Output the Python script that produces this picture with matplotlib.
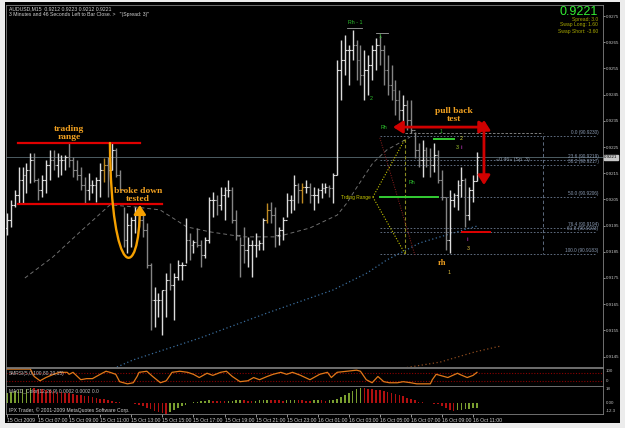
import numpy as np
import matplotlib.pyplot as plt
from matplotlib.patches import FancyArrowPatch
from matplotlib.path import Path

plt.rcParams['font.family'] = ['Liberation Sans', 'DejaVu Sans']

W, H = 625, 428

# AUDUSD M15 bars, 15 Oct 2009 05:00 .. 16 Oct 11:15
highs = [0.91998, 0.92048, 0.92086, 0.92174, 0.92174, 0.92189, 0.92227, 0.92227, 0.92132, 0.92143,
         0.92200, 0.92239, 0.92239, 0.92227, 0.92219, 0.92219, 0.92265, 0.92212, 0.92200, 0.92174,
         0.92136, 0.92151, 0.92124, 0.92136, 0.92189, 0.92208, 0.92212, 0.92265, 0.92246, 0.92162,
         0.92021, 0.91998, 0.91983, 0.92021, 0.91998, 0.91998, 0.91960, 0.91807, 0.91716, 0.91693,
         0.91704, 0.91769, 0.91807, 0.91769, 0.91819, 0.91811, 0.91979, 0.91922, 0.91895, 0.91941,
         0.91895, 0.91907, 0.92059, 0.92078, 0.92067, 0.92097, 0.92097, 0.92124, 0.92097, 0.92010,
         0.91907, 0.91945, 0.91907, 0.91895, 0.91922, 0.91895, 0.91979, 0.92036, 0.92040, 0.92021,
         0.91945, 0.91983, 0.92074, 0.92067, 0.92143, 0.92113, 0.92113, 0.92124, 0.92113, 0.92097,
         0.92094, 0.92113, 0.92113, 0.92105, 0.92151, 0.92582, 0.92658, 0.92678, 0.92639, 0.92697,
         0.92658, 0.92639, 0.92620, 0.92601, 0.92639, 0.92666, 0.92678, 0.92639, 0.92601, 0.92563,
         0.92506, 0.92468, 0.92448, 0.92429, 0.92429, 0.92307, 0.92265, 0.92277, 0.92250, 0.92246,
         0.92265, 0.92239, 0.92162, 0.92059, 0.92086, 0.92074, 0.92124, 0.92174, 0.92132, 0.92097,
         0.92143, 0.92230]
lows = [0.91914, 0.91945, 0.92021, 0.92036, 0.92036, 0.92074, 0.92113, 0.92116, 0.92048, 0.92059,
        0.92074, 0.92124, 0.92162, 0.92136, 0.92143, 0.92162, 0.92174, 0.92136, 0.92124, 0.92086,
        0.92036, 0.92048, 0.92074, 0.92040, 0.92059, 0.92116, 0.92059, 0.92162, 0.92136, 0.92086,
        0.91868, 0.91845, 0.91868, 0.91922, 0.91945, 0.91907, 0.91788, 0.91552, 0.91563, 0.91601,
        0.91532, 0.91601, 0.91704, 0.91590, 0.91742, 0.91742, 0.91807, 0.91819, 0.91845, 0.91868,
        0.91792, 0.91826, 0.91884, 0.91983, 0.91990, 0.92010, 0.91971, 0.92059, 0.91960, 0.91895,
        0.91754, 0.91807, 0.91792, 0.91754, 0.91830, 0.91857, 0.91857, 0.91960, 0.91960, 0.91868,
        0.91876, 0.91895, 0.91983, 0.91998, 0.92010, 0.92036, 0.92036, 0.92074, 0.92036, 0.92010,
        0.92036, 0.92055, 0.92074, 0.92059, 0.92036, 0.92143, 0.92429, 0.92525, 0.92487, 0.92582,
        0.92506, 0.92487, 0.92429, 0.92448, 0.92506, 0.92544, 0.92563, 0.92487, 0.92448, 0.92429,
        0.92372, 0.92353, 0.92334, 0.92315, 0.92303, 0.92208, 0.92174, 0.92136, 0.92174, 0.92136,
        0.92155, 0.92113, 0.92048, 0.91857, 0.91845, 0.92021, 0.92010, 0.92059, 0.91945, 0.91971,
        0.92040, 0.92120]
closes = [0.91971, 0.92029, 0.92067, 0.92124, 0.92143, 0.92162, 0.92200, 0.92124, 0.92086, 0.92124,
          0.92181, 0.92200, 0.92181, 0.92200, 0.92200, 0.92212, 0.92200, 0.92162, 0.92143, 0.92105,
          0.92086, 0.92105, 0.92105, 0.92124, 0.92162, 0.92181, 0.92162, 0.92239, 0.92143, 0.92086,
          0.91895, 0.91952, 0.91971, 0.91990, 0.91971, 0.91933, 0.91800, 0.91666, 0.91666, 0.91666,
          0.91704, 0.91742, 0.91723, 0.91754, 0.91800, 0.91800, 0.91895, 0.91876, 0.91887, 0.91876,
          0.91838, 0.91895, 0.92048, 0.92048, 0.92029, 0.92067, 0.92086, 0.92086, 0.91971, 0.91914,
          0.91876, 0.91857, 0.91876, 0.91876, 0.91876, 0.91884, 0.91971, 0.92010, 0.91990, 0.91914,
          0.91933, 0.91971, 0.92048, 0.92048, 0.92105, 0.92086, 0.92097, 0.92097, 0.92067, 0.92067,
          0.92086, 0.92094, 0.92097, 0.92094, 0.92143, 0.92544, 0.92582, 0.92620, 0.92620, 0.92639,
          0.92582, 0.92525, 0.92544, 0.92563, 0.92620, 0.92639, 0.92620, 0.92544, 0.92487, 0.92468,
          0.92429, 0.92391, 0.92410, 0.92353, 0.92315, 0.92239, 0.92200, 0.92239, 0.92200, 0.92181,
          0.92219, 0.92124, 0.92059, 0.91895, 0.92048, 0.92067, 0.92105, 0.92124, 0.91990, 0.92086,
          0.92120, 0.92210]
first_open = 0.91940
doji_bars = [25, 67, 76]

# moving averages (bar index, price)
ma_x = [4.6, 11.8, 18.8, 26.5, 33, 39.4, 46.3, 52.3, 60.8, 69.5, 78, 85, 87.5, 90.1, 94.2, 97.8, 103.8]
ma_vals = [0.91750, 0.91830, 0.91926, 0.92029, 0.92021, 0.92010, 0.91945, 0.91926, 0.91907,
           0.91907, 0.91941, 0.91990, 0.92036, 0.92097, 0.92189, 0.92239, 0.92288]
slow_x = [28.3, 32.4, 49.7, 66.9, 83.9, 92.7, 97.8, 106.3, 111.5, 119.2, 121]
slow_vals = [0.91410, 0.91437, 0.91521, 0.91616, 0.91704, 0.91769, 0.91819, 0.91884, 0.91907,
             0.91941, 0.91948]
brown_x = [102, 111.5, 120.5, 127]
brown_vals = [0.91406, 0.91429, 0.91468, 0.91490]

# fibonacci retracement
fib_levels = [0.92292, 0.92200, 0.92181, 0.92059, 0.91941, 0.91926, 0.91842]
fib_labels = ["0.0 (90.9230)", "23.6 (90.9219)", "38.2 (90.9217)", "50.0 (90.9206)",
              "76.4 (90.9194)", "61.8 (90.9193)", "100.0 (90.9183)"]

range_top, range_bottom = 0.92265, 0.92032
last_price = 0.9221

price_ticks = [0.9275, 0.9265, 0.9255, 0.9245, 0.9235, 0.9225, 0.9215, 0.9205,
               0.9195, 0.9185, 0.9175, 0.9165, 0.9155, 0.9145]

# oscillator (0..100)
osc_x = [0, 6, 7, 8.5, 10, 12, 13.5, 15.5, 16, 17, 19, 20.5, 22, 24, 25.5, 26.5, 28, 29, 31, 32.5,
         33.5, 34, 36, 37.5, 39.5, 41, 42.5, 44.5, 46.5, 48, 49.5, 51.5, 53, 55, 56.5, 58, 60, 62,
         63.5, 65, 67, 68.5, 70.5, 72, 73.5, 75.5, 78, 80.5, 82.5, 83.5, 85, 87.5, 90, 91, 92.5, 94,
         95.5, 97, 98.5, 100.5, 102, 104, 105.5, 109, 109.5, 110.5, 111.5, 113.5, 116, 116.5,
         118.5, 120, 121]
osc_vals = [94, 94, 53, 29, 47, 65, 76, 76, 65, 76, 35, 41, 41, 65, 82, 76, 65, 24, 12, 18,
            53, 76, 82, 53, 18, 29, 76, 82, 76, 65, 47, 71, 59, 76, 82, 53, 24, 29, 47, 35,
            53, 65, 76, 65, 76, 60, 35, 65, 76, 47, 76, 82, 88, 82, 35, 18, 53, 24, 18, 18,
            24, 18, 12, 12, 35, 65, 59, 47, 71, 65, 47, 59, 76]

# MACD histogram, points
macd_hist = [10, 11, 12, 13, 14, 14.5, 15,
             14.6, 14.2, 13.8, 13.2, 12.6, 12, 11.4, 10.8, 10.2, 9.6, 9, 8.4, 7.8, 7.2, 6.6, 6,
             5.2, 4.4, 3.6, 2.8, 2, 1.4,
             0.8, 0.4, 0.2, -0.3,
             -1, -2, -3, -4.5, -6, -7.5, -8.5, -9.5, -10.5,
             -9, -7, -5, -3, -1.5,
             0.5, 1, 1.5, 2, 2.5, 2.8, 2.5, 2.2, 2, 1.8, 2, 2.3, 2.6, 3, 2.7, 2.4, 2.2, 2.5, 2.8,
             3.2, 3.5, 3.2, 2.9, 2.6, 2.4, 2.6, 2.9, 3.2, 3, 2.7, 2.5, 2.3, 2.6, 3, 2.8, 2.5, 2.8, 3.4,
             4.5, 6.5, 8.5, 10.5, 12.5, 14, 15,
             14.8, 14.4, 14, 13.4, 12.8, 12, 11, 10, 9, 8, 6.8, 5.5, 4, 2.6, 1.4,
             0.6, 0.3, -0.2, -0.6, -1.2, -3, -5, -7, -8,
             -7, -6.5, -6, -5.5, -5, -4.5]

time_ticks = list(range(0, 121, 8))
time_labels = ["15 Oct 2009", "15 Oct 07:00", "15 Oct 09:00", "15 Oct 11:00", "15 Oct 13:00",
               "15 Oct 15:00", "15 Oct 17:00", "15 Oct 19:00", "15 Oct 21:00", "15 Oct 23:00",
               "16 Oct 01:00", "16 Oct 03:00", "16 Oct 05:00", "16 Oct 07:00", "16 Oct 09:00",
               "16 Oct 11:00"]

fig = plt.figure(figsize=(W / 100, H / 100), dpi=100, facecolor='#ececec')


def panel(l, t, r, b):
    a = fig.add_axes([l / W, 1 - b / H, (r - l) / W, (b - t) / H])
    a.set_facecolor('black')
    for s in a.spines.values():
        s.set_color('#808080')
        s.set_linewidth(0.6)
    return a


bg = panel(5, 2, 620, 423)
bg.set_xticks([])
bg.set_yticks([])
for s in bg.spines.values():
    s.set_visible(False)

XL = (-0.26, 153.45)
ax = panel(6, 5, 603, 367)
osc = panel(6, 368, 603, 386)
hist = panel(6, 386, 603, 414)
for a in (ax, osc, hist):
    a.set_xlim(*XL)

# ---------- main price panel ----------
ax.set_ylim(0.914103, 0.927920)
idx = np.arange(len(highs))
opens = [first_open] + closes[:-1]
cols = []
for i in idx:
    if i in doji_bars:
        cols.append('#c08a22')
    elif closes[i] >= opens[i]:
        cols.append('#dcdcdc')
    else:
        cols.append('#858585')

ax.axhline(last_price, color='#4d5c63', lw=0.7, zorder=1)
ax.plot(ma_x, ma_vals, color='#6e6e6e', lw=0.7, ls=(0, (4, 3)), zorder=2)
ax.plot(slow_x, slow_vals, color='#3a6d9c', lw=0.9, ls=(0, (1, 2)), zorder=2)
ax.plot(brown_x, brown_vals, color='#8b4a1e', lw=0.9, ls=(0, (1, 2)), zorder=2)

ax.vlines(idx, lows, highs, colors=cols, lw=1.0, zorder=3)
ax.hlines(opens, idx - 0.45, idx, colors=cols, lw=0.8, zorder=3)
ax.hlines(closes, idx, idx + 0.45, colors=cols, lw=0.8, zorder=3)

# fibonacci
for lev, lab in zip(fib_levels, fib_labels):
    ax.plot([96, 151.5], [lev, lev], color='#6c7c92', lw=0.6, ls=(0, (2, 2)), zorder=2)
    ax.text(152.3, lev + 0.00003, lab, color='#8898b0', fontsize=3.4, ha='right', va='bottom')
ax.plot([138, 138], [fib_levels[0], fib_levels[-1]], color='#6c7c92', lw=0.6, ls=(0, (4, 3)))
ax.plot([102.5, 138], [fib_levels[0] + 0.0001, fib_levels[0] + 0.0001], color='#909090', lw=0.6,
        ls=(0, (3, 2)))
ax.text(126, 0.92204, "\u00ab0.46\u00bb (Sp. 3)", color='#8c9aaa', fontsize=3.8, va='center')

# trading range on the left
ax.plot([2.8, 34.2], [range_top, range_top], color='#e00000', lw=1.6, zorder=4)
ax.plot([2.8, 40], [range_bottom, range_bottom], color='#e00000', lw=1.6, zorder=4)
ax.text(16, 0.92303, "trading\nrange", color='#f0a020', fontsize=6.8, fontweight='bold',
        family='Liberation Serif', ha='center', va='center', linespacing=1.05)
ax.text(33.8, 0.92067, "broke down\ntested", color='#f0a020', fontsize=6.8, fontweight='bold',
        family='Liberation Serif', ha='center', va='center', linespacing=1.05)
u_path = Path([(26.5, range_top), (26.8, 0.91731), (34.2, 0.91731), (34.2, 0.92029)],
              [Path.MOVETO, Path.CURVE4, Path.CURVE4, Path.CURVE4])
ax.add_patch(FancyArrowPatch(path=u_path, arrowstyle='-|>,head_length=0.7,head_width=0.45',
                             mutation_scale=8, lw=1.7, color='#f5a000', zorder=5,
                             shrinkA=0, shrinkB=0))

# right side structure
ax.text(86, 0.92059, "Trding Range", color='#c8c800', fontsize=3.5, va='center')
ax.plot([94.2, 102.5], [0.92059, 0.92281], color='#c8c800', lw=0.8, ls=(0, (1, 1.5)))
ax.plot([94.2, 102.5], [0.92059, 0.91842], color='#c8c800', lw=0.8, ls=(0, (1, 1.5)))
ax.plot([102.5, 102.5], [0.92281, 0.91842], color='#8a8a20', lw=0.8, ls=(0, (3, 2)))
ax.plot([96, 105], [0.92285, 0.91838], color='#902020', lw=0.7, ls=(0, (1, 1.5)))
ax.plot([96, 111], [0.92059, 0.92059], color='#33cc33', lw=1.4, zorder=4)
ax.plot([110, 115], [0.92281, 0.92281], color='#33cc33', lw=1.4, zorder=4)
ax.plot([117.2, 124.4], [0.91926, 0.91926], color='#e00000', lw=1.4, zorder=4)
ax.plot([87.5, 91.5], [0.92705, 0.92705], color='#a0a0a0', lw=0.6)
ax.plot([95, 98], [0.92685, 0.92685], color='#a0a0a0', lw=0.6)

green = '#2ec42e'
ax.text(89.6, 0.92727, "Rh - 1", color=green, fontsize=3.8, ha='center', va='center')
ax.text(96, 0.92670, "1", color=green, fontsize=3.8, ha='center', va='center')
ax.text(93.7, 0.92437, "2", color=green, fontsize=3.8, ha='center', va='center')
ax.text(97, 0.92323, "Rh", color=green, fontsize=3.8, ha='center', va='center')
ax.text(104.3, 0.92113, "Rh", color=green, fontsize=3.8, ha='center', va='center')
ax.text(111.7, 0.92311, "1", color=green, fontsize=3.5, ha='center', va='center')
ax.text(116.9, 0.92284, "2", color='#e0e040', fontsize=3.8, ha='center', va='center')
ax.text(115.9, 0.92250, "3", color='#a8d030', fontsize=3.8, ha='center', va='center')
ax.text(117.2, 0.92250, "ii", color='#e040e0', fontsize=3.8, ha='center', va='center')
ax.text(118.7, 0.91897, "ii", color='#e040e0', fontsize=3.8, ha='center', va='center')
ax.text(118.7, 0.91864, "3", color='#e0c040', fontsize=3.8, ha='center', va='center')
ax.text(112, 0.91807, "rh", color='#f0a020', fontsize=6, family='Liberation Serif',
        fontweight='bold', ha='center', va='center')
ax.text(113.8, 0.91772, "1", color='#e0c040', fontsize=3.8, ha='center', va='center')

ax.text(115, 0.92372, "pull back\ntest", color='#f0a020', fontsize=6.8, fontweight='bold',
        family='Liberation Serif', ha='center', va='center', linespacing=1.05)
ax.add_patch(FancyArrowPatch((99.4, 0.92326), (124.1, 0.92326),
                             arrowstyle='<|-|>,head_length=0.7,head_width=0.45',
                             mutation_scale=8, lw=2.0, color='#d00000', zorder=6,
                             shrinkA=0, shrinkB=0))
ax.add_patch(FancyArrowPatch((122.8, 0.92353), (122.8, 0.92105),
                             arrowstyle='<|-|>,head_length=0.7,head_width=0.45',
                             mutation_scale=8, lw=2.0, color='#d00000', zorder=6,
                             shrinkA=0, shrinkB=0))

# header texts
ax.text(0.005, 0.997, "AUDUSD,M15  0.9212 0.9223 0.9212 0.9221", transform=ax.transAxes,
        color='#d0d0d0', fontsize=3.7, va='top')
ax.text(0.005, 0.980, "3 Minutes and 46 Seconds Left to Bar Close. >   \"(Spread: 3)\"",
        transform=ax.transAxes, color='#d0d0d0', fontsize=3.7, va='top')
ax.text(0.9916, 0.981, "0.9221", transform=ax.transAxes, color='#33ee33', fontsize=9,
        ha='right', va='center')
for yy, s in [(0.961, "Spread: 3.0"), (0.945, "Swap Long: 1.60"), (0.928, "Swap Short: -3.60")]:
    ax.text(0.9916, yy, s, transform=ax.transAxes, color='#a8a800', fontsize=3.6,
            ha='right', va='center')

ax.set_xticks([])
ax.yaxis.tick_right()
ax.set_yticks(price_ticks)
ax.set_yticklabels([f"{p:.4f}" for p in price_ticks])
ax.tick_params(axis='y', colors='#c8c8c8', labelsize=3.2, length=1.5, pad=0.5, width=0.5)
ax.text(1.002, last_price, f"{last_price:.4f}", transform=ax.get_yaxis_transform(),
        color='black', fontsize=3.2, va='center', ha='left',
        bbox=dict(boxstyle='square,pad=0.15', fc='#c8c8c8', ec='#c8c8c8'))

# ---------- oscillator ----------
osc.set_ylim(0, 100)
osc.axhline(70, color='#8b0000', lw=0.8, ls=(0, (1, 1.5)))
osc.axhline(30, color='#8b0000', lw=0.8, ls=(0, (1, 1.5)))
osc.plot(osc_x, osc_vals, color='#e07818', lw=0.9)
osc.text(0.005, 0.7, "SMRSI(5,0,100,80,20,15)", transform=osc.transAxes, color='#c0c0c0',
         fontsize=3.5, va='center')
osc.set_xticks([])
osc.set_yticks([])
osc.text(1.004, 0.82, "100", transform=osc.transAxes, color='#c0c0c0', fontsize=3.2, va='center')
osc.text(1.004, 0.3, "0", transform=osc.transAxes, color='#c0c0c0', fontsize=3.2, va='center')

# ---------- MACD histogram ----------
hist.set_ylim(-11, 17)
hcols = ['#7a9e30' if (i == 0 or macd_hist[i] >= macd_hist[i - 1]) else '#b01010'
         for i in range(len(macd_hist))]
hist.bar(idx, macd_hist, width=0.4, color=hcols)
hist.text(0.005, 0.82, "MACD_Color(12,26,9) 0.0002 0.0002 0.0", transform=hist.transAxes,
          color='#c0c0c0', fontsize=3.5, va='center')
hist.text(0.005, 0.14, "IPX Trader, \u00a9 2001-2009 MetaQuotes Software Corp.",
          transform=hist.transAxes, color='#d0d0d0', fontsize=3.6, va='center')
hist.yaxis.tick_right()
hist.set_yticks([14, 0, -8])
hist.set_yticklabels(["18", "0.00", "-12.3"])
hist.tick_params(axis='y', colors='#c0c0c0', labelsize=3.2, length=0, pad=2)
hist.set_xticks(time_ticks)
hist.set_xticklabels(time_labels, ha='left')
hist.tick_params(axis='x', colors='#d0d0d0', labelsize=3.7, length=2, pad=1, width=0.5)

fig.savefig('out.png', dpi=100, facecolor=fig.get_facecolor())
